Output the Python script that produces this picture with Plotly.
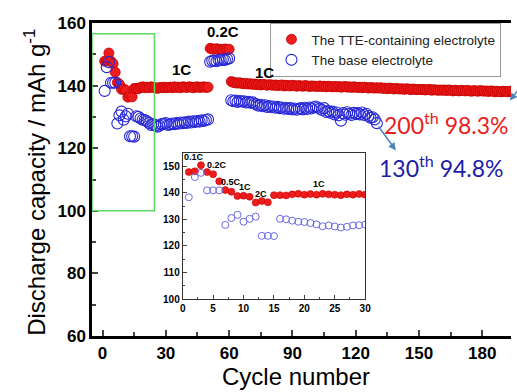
import plotly.graph_objects as go

# ---------------- data ----------------
tte_cycles = list(range(1, 201))
tte_capacity = [
    147.8, 148.1, 150.4, 147.8, 147.0, 144.3, 141.0, 140.4, 138.8, 138.9,
    138.5, 136.3, 136.9, 136.4, 139.1, 139.1, 139.0, 139.4, 139.6, 139.3,
    139.5, 139.3, 139.6, 139.4, 139.3, 139.1, 139.4, 139.3, 139.5, 139.3,
    139.4, 139.5, 139.3, 139.6, 139.4, 139.5, 139.3, 139.6, 139.5, 139.4,
    139.6, 139.5, 139.3, 139.5, 139.6, 139.4, 139.5, 139.6, 139.4, 139.5,
    151.9, 151.7, 151.6, 151.8, 151.5, 151.6, 151.4, 151.7, 151.5, 151.6,
    141.3, 141.0, 140.9, 140.8, 140.9, 140.7, 140.6, 140.7, 140.5, 140.6,
    140.4, 140.5, 140.3, 140.4, 140.2, 140.4, 140.3, 140.1, 140.3, 140.2,
    140.1, 140.2, 140.0, 140.1, 140.2, 139.9, 140.1, 140.0, 139.9, 140.1,
    140.0, 139.8, 140.0, 139.9, 139.8, 140.0, 139.9, 139.7, 139.9, 139.8,
    139.8, 139.7, 139.9, 139.7, 139.8, 139.6, 139.8, 139.7, 139.6, 139.7,
    139.6, 139.7, 139.5, 139.6, 139.7, 139.5, 139.6, 139.4, 139.6, 139.5,
    139.4, 139.5, 139.3, 139.5, 139.4, 139.2, 139.4, 139.3, 139.2, 139.3,
    139.2, 139.3, 139.1, 139.2, 139.0, 139.2, 139.1, 138.9, 139.1, 139.0,
    138.9, 139.0, 138.8, 139.0, 138.9, 138.7, 138.9, 138.8, 138.7, 138.8,
    138.7, 138.8, 138.6, 138.7, 138.8, 138.5, 138.7, 138.6, 138.5, 138.6,
    138.5, 138.6, 138.4, 138.6, 138.5, 138.3, 138.5, 138.4, 138.3, 138.5,
    138.4, 138.3, 138.5, 138.3, 138.2, 138.4, 138.3, 138.2, 138.4, 138.3,
    138.2, 138.3, 138.1, 138.3, 138.2, 138.0, 138.2, 138.1, 138.0, 138.2,
    138.1, 138.0, 138.2, 138.1, 137.9, 138.1, 138.0, 138.1, 137.9, 138.1,
]

base_cycles = list(range(1, 131))
base_capacity = [
    138.3, 145.9, 147.5, 140.9, 140.9, 140.9, 127.9, 130.5, 131.7, 129.1,
    130.2, 131.0, 123.8, 123.8, 123.7, 130.2, 130.0, 129.5, 129.1, 129.0,
    128.6, 128.1, 127.4, 127.7, 127.3, 126.9, 127.2, 127.7, 127.8, 128.0,
    127.4, 127.6, 127.9, 127.7, 128.0, 127.8, 128.2, 128.0, 128.3, 128.1,
    128.5, 128.2, 128.6, 128.4, 128.7, 128.5, 128.9, 128.7, 129.0, 129.2,
    147.6, 147.9, 148.0, 147.8, 148.2, 148.1, 148.3, 148.2, 148.5, 148.7,
    135.3, 135.0, 135.2, 134.8, 135.1, 134.9, 135.0, 134.6, 134.8, 134.5,
    134.7, 134.3, 134.0, 133.6, 133.9, 133.4, 133.7, 133.2, 133.5, 133.1,
    133.3, 132.9, 133.2, 132.8, 133.0, 132.6, 132.9, 132.5, 132.8, 132.4,
    132.7, 132.3, 132.6, 132.8, 132.4, 132.9, 132.5, 133.0, 132.7, 133.1,
    133.3, 133.0, 132.6, 132.2, 132.8, 131.6, 131.9, 131.3, 131.7, 130.8,
    131.4, 130.5, 128.8, 131.2, 130.7, 131.5, 131.0, 130.6, 131.3, 130.9,
    131.2, 130.8, 131.4, 130.6, 131.0, 130.3, 129.7, 129.9, 129.2, 128.0,
]

inset_n = 30
main_xticks = [0, 30, 60, 90, 120, 150, 180]
main_yticks = [60, 80, 100, 120, 140, 160]
inset_xticks = [0, 5, 10, 15, 20, 25, 30]
inset_yticks = [100, 110, 120, 130, 140, 150]

main_rate_labels = [("1C", 37.4, 145.0), ("0.2C", 57.0, 157.2), ("1C", 76.6, 144.3)]
inset_rate_labels = [("0.1C", 1.9, 153.6), ("0.2C", 5.6, 150.4), ("0.5C", 8.0, 144.0),
                     ("1C", 10.3, 142.2), ("2C", 12.9, 139.6), ("1C", 22.4, 143.3)]

RED = "#ee1c1c"
RED_EDGE = "#c40000"
BLUE = "#2828d8"
BLUE_INSET = "#6a6ae6"
FONT = "Liberation Sans, Arial, sans-serif"

fig = go.Figure()

fig.add_trace(go.Scatter(
    x=tte_cycles, y=tte_capacity, mode="markers",
    name="The TTE-containing electrolyte",
    marker=dict(size=10, color=RED, line=dict(color=RED_EDGE, width=0.8)),
))
fig.add_trace(go.Scatter(
    x=base_cycles, y=base_capacity, mode="markers",
    name="The base electrolyte",
    marker=dict(size=11, symbol="circle-open", color=BLUE, line=dict(color=BLUE, width=1.1)),
))

# inset
fig.add_trace(go.Scatter(
    x=tte_cycles[:inset_n], y=tte_capacity[:inset_n], mode="markers",
    xaxis="x2", yaxis="y2", showlegend=False,
    marker=dict(size=7, color=RED, line=dict(color=RED_EDGE, width=0.6)),
))
fig.add_trace(go.Scatter(
    x=base_cycles[:inset_n], y=base_capacity[:inset_n], mode="markers",
    xaxis="x2", yaxis="y2", showlegend=False,
    marker=dict(size=7, symbol="circle-open", color=BLUE_INSET, line=dict(color=BLUE_INSET, width=1)),
))

tickfont_main = dict(family=FONT, size=17, color="black", weight="bold")
tickfont_inset = dict(family=FONT, size=10, color="black", weight="bold")

fig.update_layout(
    width=517, height=392,
    margin=dict(l=92, r=0, t=23, b=56),
    paper_bgcolor="white", plot_bgcolor="white",
    font=dict(family=FONT, color="black"),
    xaxis=dict(
        range=[-5, 193.6], tickvals=main_xticks, ticks="inside", ticklen=6, tickwidth=2,
        showline=True, linewidth=2.5, linecolor="black", mirror=True,
        showgrid=False, zeroline=False, tickfont=tickfont_main,
        minor=dict(tickvals=[15, 45, 75, 105, 135, 165], ticks="inside", ticklen=4, tickwidth=2),
    ),
    yaxis=dict(
        range=[60, 160], tickvals=main_yticks, ticks="inside", ticklen=6, tickwidth=2,
        showline=True, linewidth=2.5, linecolor="black", mirror=False,
        showgrid=False, zeroline=False, tickfont=tickfont_main,
        minor=dict(tickvals=[70, 90, 110, 130, 150], ticks="inside", ticklen=4, tickwidth=2),
    ),
    xaxis2=dict(
        domain=[0.2165, 0.652], anchor="y2", range=[0, 30], tickvals=inset_xticks,
        ticks="inside", ticklen=4, tickwidth=1, showline=True, linewidth=1,
        linecolor="#333", mirror=True, showgrid=False, zeroline=False,
        tickfont=tickfont_inset,
        minor=dict(tickvals=[2.5, 7.5, 12.5, 17.5, 22.5, 27.5], ticks="inside", ticklen=2.5, tickwidth=1),
    ),
    yaxis2=dict(
        domain=[0.118, 0.585], anchor="x2", range=[100, 155], tickvals=inset_yticks,
        ticks="inside", ticklen=4, tickwidth=1, showline=True, linewidth=1,
        linecolor="#333", mirror=True, showgrid=False, zeroline=False,
        tickfont=tickfont_inset,
        minor=dict(tickvals=[105, 115, 125, 135, 145], ticks="inside", ticklen=2.5, tickwidth=1),
    ),
    legend=dict(
        x=0.4259, y=1.0, xanchor="left", yanchor="top",
        bordercolor="#9a9a9a", borderwidth=1, bgcolor="white",
        font=dict(family=FONT, size=13.5, color="#222"),
        tracegroupgap=0,
    ),
    showlegend=True,
)

# green highlight rectangle
fig.add_shape(type="rect", xref="x", yref="y", x0=-5, x1=24.6, y0=100, y1=156.6,
              line=dict(color="#5fd85f", width=1.5), fillcolor="rgba(0,0,0,0)")

ann = []
# axis titles
ann.append(dict(text="Discharge capacity / mAh g<sup>-1</sup>", xref="paper", yref="paper",
                x=-0.1365, y=0.492, textangle=-90, showarrow=False,
                font=dict(family=FONT, size=24, color="black"),
                xanchor="center", yanchor="middle"))
ann.append(dict(text="Cycle number", xref="paper", yref="paper", x=0.488, y=-0.128,
                showarrow=False, font=dict(family=FONT, size=24, color="black"),
                xanchor="center", yanchor="middle"))
for t, xx, yy in main_rate_labels:
    ann.append(dict(text=t, x=xx, y=yy, xref="x", yref="y", showarrow=False,
                    font=dict(family=FONT, size=15, color="black", weight="bold")))
for t, xx, yy in inset_rate_labels:
    ann.append(dict(text=t, x=xx, y=yy, xref="x2", yref="y2", showarrow=False,
                    font=dict(family=FONT, size=9, color="black", weight="bold")))
ann.append(dict(text="200<sup>th</sup> 98.3%", x=163.0, y=128.0, xref="x", yref="y",
                showarrow=False, font=dict(family="Lato, Open Sans, sans-serif", size=23, color="#e8201c")))
ann.append(dict(text="130<sup>th</sup> 94.8%", x=160.7, y=114.0, xref="x", yref="y",
                showarrow=False, font=dict(family="Lato, Open Sans, sans-serif", size=23, color="#1c1ca8")))
# arrows
ann.append(dict(text="", x=139.0, y=119.3, ax=130.3, ay=127.4, xref="x", yref="y",
                axref="x", ayref="y", showarrow=True, arrowhead=2, arrowsize=1,
                arrowwidth=1.5, arrowcolor="#4f81bd"))
ann.append(dict(text="", x=193.0, y=135.2, ax=198.0, ay=139.5, xref="x", yref="y",
                axref="x", ayref="y", showarrow=True, arrowhead=2, arrowsize=1,
                arrowwidth=1.5, arrowcolor="#4f81bd"))
fig.update_layout(annotations=ann)

fig.write_html("out.html", config={"displayModeBar": False},
               post_script="document.body.style.margin='0';document.body.style.overflow='hidden';")
